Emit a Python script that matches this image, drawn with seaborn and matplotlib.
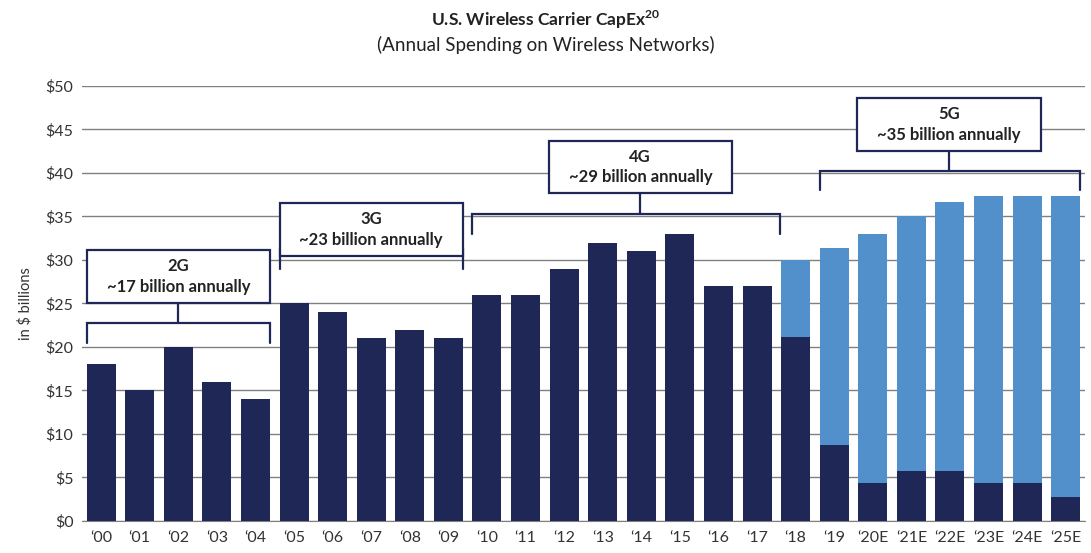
import pandas as pd
import matplotlib.pyplot as plt
import seaborn as sns
from matplotlib.patches import Rectangle

# Values ($ billions)
years = ["\u201800", "\u201801", "\u201802", "\u201803", "\u201804", "\u201805", "\u201806",
         "\u201807", "\u201808", "\u201809", "\u201810", "\u201811", "\u201812", "\u201813",
         "\u201814", "\u201815", "\u201816", "\u201817", "\u201818", "\u201819", "\u201820E",
         "\u201821E", "\u201822E", "\u201823E", "\u201824E", "\u201825E"]
total = [18, 15, 20, 16, 14, 25, 24, 21, 22, 21, 26, 26, 29, 32, 31, 33, 27, 27,
         30, 31.4, 33.0, 35.0, 36.7, 37.4, 37.4, 37.3]
legacy = [18, 15, 20, 16, 14, 25, 24, 21, 22, 21, 26, 26, 29, 32, 31, 33, 27, 27,
          21.2, 8.7, 4.4, 5.7, 5.7, 4.4, 4.4, 2.7]
y_ticks = [0, 5, 10, 15, 20, 25, 30, 35, 40, 45, 50]

gen_labels = ["2G\n~17 billion annually", "3G\n~23 billion annually",
              "4G\n~29 billion annually", "5G\n~35 billion annually"]

df = pd.DataFrame({"year": years, "total": total, "legacy": legacy})

navy = "#1f2756"
light = "#5290cc"
sns.set_style("white")
plt.rcParams["font.family"] = ["Lato", "DejaVu Sans"]
plt.rcParams["mathtext.fontset"] = "custom"
plt.rcParams["mathtext.bf"] = "Lato:bold"
plt.rcParams["mathtext.rm"] = "Lato"

fig = plt.figure(figsize=(10.91, 5.53), dpi=100)
ax = fig.add_axes([0.075, 0.058, 0.9195, 0.7865])

sns.barplot(data=df, x="year", y="total", order=years, color=light, width=0.75,
            errorbar=None, saturation=1, linewidth=0, ax=ax, zorder=3)
sns.barplot(data=df, x="year", y="legacy", order=years, color=navy, width=0.75,
            errorbar=None, saturation=1, linewidth=0, ax=ax, zorder=3)

ax.set_xlim(-0.5, 25.5)
ax.set_ylim(0, 50)
ax.set_yticks(y_ticks)
ax.set_yticklabels([f"${v}" for v in y_ticks])
ax.yaxis.grid(True, color="#808080", lw=1)
ax.set_axisbelow(True)
for s in ["top", "left", "right"]:
    ax.spines[s].set_visible(False)
ax.spines["bottom"].set_color("#808080")
ax.tick_params(axis="both", length=0, labelsize=11.5, colors="#333333")
ax.tick_params(axis="x", pad=7)
ax.tick_params(axis="y", pad=6)
ax.set_xlabel("")
ax.set_ylabel("in $ billions", fontsize=10.5, color="#333333", labelpad=9)

# brackets and labelled boxes
brackets = [(-0.375, 4.375, 22.8, 20.5), (4.625, 9.375, 31.3, 29.0),
            (9.625, 17.6, 35.3, 33.0), (18.625, 25.375, 40.25, 38.0)]
boxes = [(-0.375, 4.375, 25.1, 31.1), (4.625, 9.375, 30.5, 36.5),
         (11.6, 16.35, 37.7, 43.7), (19.6, 24.35, 42.5, 48.6)]
lc = navy
for (x0, x1, yb, ye), (bx0, bx1, by0, by1), lab in zip(brackets, boxes, gen_labels):
    ax.plot([x0, x0, x1, x1], [ye, yb, yb, ye], color=lc, lw=1.6, zorder=5,
            solid_joinstyle="miter")
    cx = (bx0 + bx1) / 2
    ax.plot([cx, cx], [yb, by0], color=lc, lw=1.6, zorder=5)
    ax.add_patch(Rectangle((bx0, by0), bx1 - bx0, by1 - by0, facecolor="white",
                           edgecolor=lc, lw=1.6, zorder=6))
    ax.text(cx, (by0 + by1) / 2, lab, ha="center", va="center", fontsize=12,
            fontweight="bold", color="#222222", linespacing=1.35, zorder=7)

fig.text(0.5, 0.965, r"U.S. Wireless Carrier CapEx$^{\mathbf{20}}$", ha="center",
         va="center", fontsize=12.5, fontweight="bold", color="#222222")
fig.text(0.5, 0.918, "(Annual Spending on Wireless Networks)", ha="center", va="center",
         fontsize=13.5, color="#222222")

plt.savefig("out.png", dpi=100)
